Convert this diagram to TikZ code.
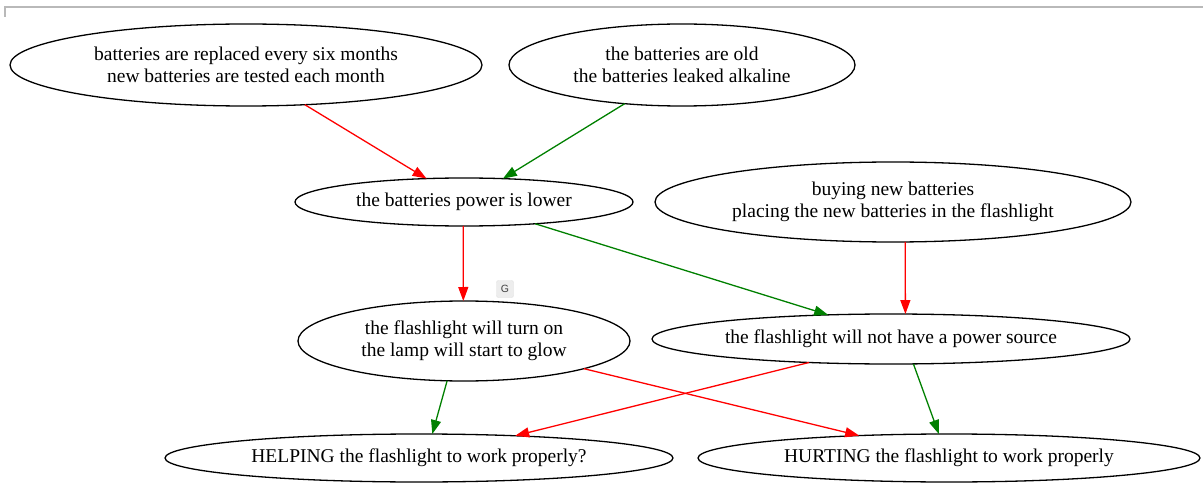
\documentclass[tikz,border=0pt]{standalone}
\usepackage{fontspec}
\setmainfont{Liberation Serif}
\setsansfont{Liberation Sans}
\usetikzlibrary{arrows.meta,shapes.geometric}
\definecolor{gvgreen}{RGB}{0,128,0}
\definecolor{gvred}{RGB}{255,0,0}
\begin{document}
\begin{tikzpicture}[x=1pt,y=-1pt,
  ell/.style={draw=black, line width=1.3pt, ellipse, inner sep=0pt, outer sep=0pt,
    align=center, font=\fontsize{19.5}{22}\selectfont},
  edgeline/.style={line width=1.3pt, -{Triangle[length=14pt,width=10pt]}},
  redE/.style={edgeline, gvred},
  greenE/.style={edgeline, gvgreen}]
\useasboundingbox (0,0) rectangle (1203,484);
\draw[gray!55, line width=1.2pt] (5,17) -- (5,7) -- (1203,7);

\node[ell, minimum width=472pt, minimum height=82pt] (e1) at (246,65)
  {batteries are replaced every six months\\new batteries are tested each month};
\node[ell, minimum width=346pt, minimum height=82pt] (e2) at (682,65)
  {the batteries are old\\the batteries leaked alkaline};
\node[ell, minimum width=338pt, minimum height=48pt] (e3) at (464,202)
  {the batteries power is lower};
\node[ell, minimum width=476pt, minimum height=80pt] (e4) at (893,202)
  {buying new batteries\\placing the new batteries in the flashlight};
\node[ell, minimum width=332pt, minimum height=80pt] (e5) at (464,341)
  {the flashlight will turn on\\the lamp will start to glow};
\node[ell, minimum width=478pt, minimum height=50pt] (e6) at (891,339)
  {the flashlight will not have a power source};
\node[ell, minimum width=508pt, minimum height=48pt] (e7) at (419,458)
  {HELPING the flashlight to work properly?};
\node[ell, minimum width=502pt, minimum height=48pt] (e8) at (949,458)
  {HURTING the flashlight to work properly};

\node[draw=gray!25, fill=gray!14, rounded corners=2pt, minimum width=17pt, minimum height=17pt,
  inner sep=0pt, font=\sffamily\fontsize{10.5}{10.5}\selectfont, text=black!75] (g) at (505,289) {G};

\draw[redE] (e1.-34) -- (e3.148.4);
\draw[greenE] (e2.-146.5) -- (e3.31.4);
\draw[redE] (e3.-92) -- (e5.91);
\draw[greenE] (e3.-17.5) -- (e6.159.1);
\draw[redE] (e4.-73.7) -- (e6.60.8);
\draw[greenE] (e5.-113) -- (e7.61.6);
\draw[redE] (e5.-13.1) -- (e8.166);
\draw[redE] (e6.-164.1) -- (e7.13.7);
\draw[greenE] (e6.-48.7) -- (e8.113.7);
\end{tikzpicture}
\end{document}
